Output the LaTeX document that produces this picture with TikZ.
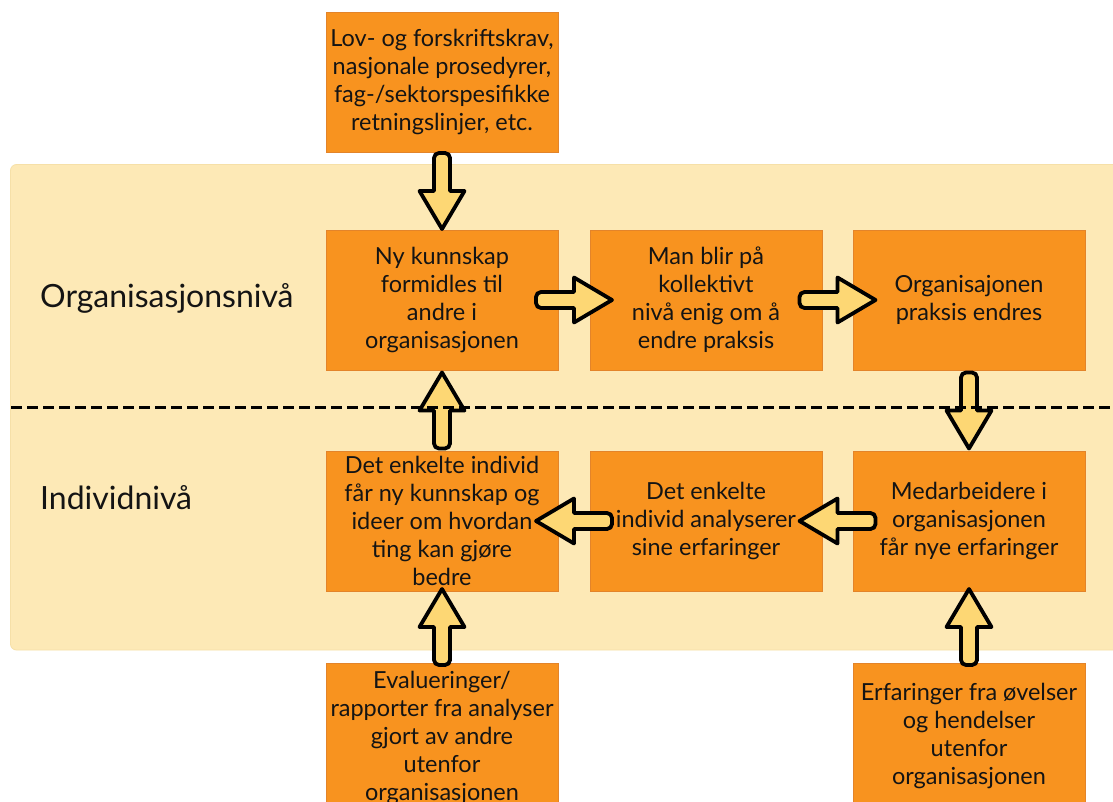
\documentclass[tikz,border=0pt]{standalone}
\usepackage{fontspec}
\setmainfont{Lato}
\usetikzlibrary{calc}
\definecolor{panel}{HTML}{FDE9B6}
\definecolor{panelline}{HTML}{F6E0A8}
\definecolor{boxfill}{HTML}{F8931F}
\definecolor{boxline}{HTML}{E3842A}
\definecolor{arrowfill}{HTML}{FDD774}
\definecolor{ink}{HTML}{141414}
\tikzset{
  stepbox/.style={draw=boxline, line width=0.8pt, fill=boxfill,
    minimum width=232, minimum height=140, inner sep=0pt, align=center,
    text=ink, font=\fontsize{23.5}{28}\selectfont},
  levellabel/.style={anchor=west, text=ink, inner sep=0pt,
    font=\fontsize{32}{36}\selectfont},
  blockarrow/.style={draw=black, line width=3.8pt, fill=arrowfill, line join=round,
    to path={
      ($(\tikztostart)!0.5!(\tikztotarget)$) coordinate (ba-m)
      ($(ba-m)!38pt!(\tikztotarget)$) coordinate (ba-tip)
      ($(ba-m)!-38pt!(\tikztotarget)$) coordinate (ba-tail)
      ($(ba-m)!22.5pt!90:(\tikztotarget)$) -- (ba-tip)
      -- ($(ba-m)!22.5pt!-90:(\tikztotarget)$)
      -- ($(ba-m)!8pt!-90:(\tikztotarget)$)
      [rounded corners=5pt] -- ($(ba-tail)!8pt!-90:(\tikztotarget)$)
      -- ($(ba-tail)!8pt!90:(\tikztotarget)$)
      [sharp corners] -- ($(ba-m)!8pt!90:(\tikztotarget)$) -- cycle
    }},
  levelsplit/.style={draw=black, line width=3pt, dash pattern=on 10.5pt off 5.5pt}
}
\begin{document}
\begin{tikzpicture}[x=1pt,y=-1pt]
  \useasboundingbox (0,0) rectangle (1113,802);
  \clip (0,0) rectangle (1113,802);
  \fill[white] (0,0) rectangle (1113,802);

  % background band for the two levels
  \draw[panelline, fill=panel, rounded corners=6pt, line width=0.8pt]
    (10.5,164.5) rectangle (1130,650);

  \node[levellabel] (orglabel) at (40,298) {Organisasjonsnivå};
  \node[levellabel] (indlabel) at (40,498) {Individnivå};

  % process boxes
  \node[stepbox] (top) at (442,82) {Lov- og forskriftskrav,\\nasjonale prosedyrer,\\fag-/sektorspesifikke\\retningslinjer, etc.};
  \node[stepbox] (o1) at (442,300) {Ny kunnskap\\formidles til\\andre i\\organisasjonen};
  \node[stepbox] (o2) at (706,300) {Man blir på\\kollektivt\\nivå enig om å\\endre praksis};
  \node[stepbox] (o3) at (969,300) {Organisajonen\\praksis endres};
  \node[stepbox] (i1) at (442,521) {Det enkelte individ\\får ny kunnskap og\\ideer om hvordan\\ting kan gjøre\\bedre};
  \node[stepbox] (i2) at (706,521) {Det enkelte\\individ analyserer\\sine erfaringer};
  \node[stepbox] (i3) at (969,521) {Medarbeidere i\\organisasjonen\\får nye erfaringer};
  \node[stepbox, minimum height=150] (bl) at (442,738) {Evalueringer/\\rapporter fra analyser\\gjort av andre\\utenfor\\organisasjonen};
  \node[stepbox, minimum height=146] (br) at (969,736) {Erfaringer fra øvelser\\og hendelser\\utenfor\\organisasjonen};

  % flow arrows
  \draw[blockarrow] (top.south) to (o1.north);
  \draw[blockarrow] (o1.east) to (o2.west);
  \draw[blockarrow] (o2.east) to (o3.west);
  \draw[blockarrow] (o3.south) to (i3.north);
  \draw[blockarrow] (i3.west) to (i2.east);
  \draw[blockarrow] (i2.west) to (i1.east);
  \draw[blockarrow] (i1.north) to (o1.south);
  \draw[blockarrow] (bl.north) to (i1.south);
  \draw[blockarrow] (br.north) to (i3.south);

  % split between organisation and individual level
  \coordinate (splitL) at (11,407);
  \coordinate (splitR) at (1113,407);
  \draw[levelsplit] (splitL) -- (splitR);
\end{tikzpicture}
\end{document}
